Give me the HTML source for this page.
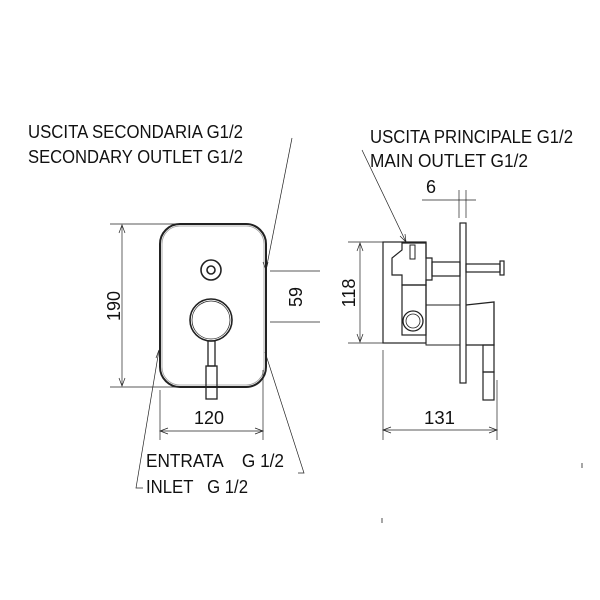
<!DOCTYPE html>
<html><head><style>
body{margin:0;background:#fff}
svg{display:block}
text{font-family:"Liberation Sans",sans-serif;fill:#111}
</style></head><body>
<svg width="600" height="600" viewBox="0 0 600 600" xmlns="http://www.w3.org/2000/svg">
<g fill="none" stroke="#222" stroke-width="1">
<rect x="160" y="224" width="106" height="163" rx="20" stroke-width="2"/>
<rect x="162" y="226" width="102" height="159" rx="18" stroke="#999" stroke-width="0.8"/>
<circle cx="211" cy="270" r="10" stroke-width="1.6"/>
<circle cx="211" cy="270" r="4" stroke-width="1.6"/>
<circle cx="211" cy="320" r="21" stroke-width="1.6"/>
<circle cx="211" cy="320" r="19" stroke-width="0.7"/>
<rect x="208" y="341" width="7" height="25" stroke-width="1.3"/>
<rect x="206" y="366" width="11" height="33" stroke-width="1.3"/>
<line x1="110" y1="224" x2="180" y2="224" stroke-width="0.7"/>
<line x1="110" y1="387" x2="180" y2="387" stroke-width="0.7"/>
<line x1="122" y1="225" x2="122" y2="386" stroke-width="0.7"/>
<path d="M119 233 L122 225 L125 233 M119 378 L122 386 L125 378" stroke-width="0.7"/>
<line x1="270" y1="271" x2="320" y2="271" stroke-width="0.7"/>
<line x1="270" y1="322" x2="320" y2="322" stroke-width="0.7"/>
<line x1="160" y1="390" x2="160" y2="440" stroke-width="0.7"/>
<line x1="263" y1="370" x2="263" y2="440" stroke-width="0.7"/>
<line x1="160" y1="431" x2="263" y2="431" stroke-width="0.7"/>
<path d="M168 428 L160 431 L168 434 M255 428 L263 431 L255 434" stroke-width="0.7"/>
<line x1="292" y1="138" x2="266" y2="270" stroke-width="0.7"/>
<path d="M263 262 L266 270 L268 262" stroke-width="0.7"/>
<path d="M143 488 L136 488 L159 350" stroke-width="0.7"/>
<path d="M156 358 L159 350 L160 358" stroke-width="0.7"/>
<path d="M298 473 L304 473 L265 352" stroke-width="0.7"/>
<line x1="362" y1="150" x2="406" y2="242" stroke-width="0.7"/>
<path d="M400 236 L406 242 L405 234" stroke-width="0.7"/>
<rect x="383" y="242" width="43" height="101" stroke-width="1.2"/>
<line x1="348" y1="242" x2="383" y2="242" stroke-width="0.7"/>
<line x1="348" y1="343" x2="383" y2="343" stroke-width="0.7"/>
<line x1="360" y1="243" x2="360" y2="342" stroke-width="0.7"/>
<path d="M357 251 L360 243 L363 251 M357 334 L360 342 L363 334" stroke-width="0.7"/>
<rect x="460" y="223" width="6" height="160" stroke-width="1.2"/>
<path d="M402 243 L426 243 L426 258 L432 258 L432 280 L426 280 L426 285 L402 285 L402 275 L392 275 L392 258 L402 250 Z" stroke-width="1.2"/>
<rect x="410" y="245" width="5" height="14" stroke-width="1"/>
<rect x="402" y="285" width="24" height="50" stroke-width="1.2"/>
<circle cx="413" cy="321" r="10" stroke-width="1.3"/>
<circle cx="413" cy="321" r="7" stroke-width="0.8"/>
<rect x="432" y="262" width="28" height="14" stroke-width="1.2"/>
<rect x="466" y="264" width="34" height="8" stroke-width="1.2"/>
<rect x="500" y="261" width="4" height="14" stroke-width="1.2"/>
<rect x="426" y="305" width="34" height="40" stroke-width="1"/>
<path d="M466 305 L494 302 L494 345 L466 345" stroke-width="1.3"/>
<rect x="483" y="345" width="11" height="27" stroke-width="1.2"/>
<rect x="483" y="372" width="11" height="28" stroke-width="1.2"/>
<line x1="459" y1="190" x2="459" y2="218" stroke-width="0.7"/>
<line x1="466" y1="190" x2="466" y2="218" stroke-width="0.7"/>
<line x1="422" y1="200" x2="476" y2="200" stroke-width="0.7"/>
<line x1="383" y1="350" x2="383" y2="440" stroke-width="0.7"/>
<line x1="497" y1="380" x2="497" y2="440" stroke-width="0.7"/>
<line x1="383" y1="430" x2="497" y2="430" stroke-width="0.7"/>
<path d="M391 427 L383 430 L391 433 M489 427 L497 430 L489 433" stroke-width="0.7"/>
<line x1="582" y1="463" x2="582" y2="468" stroke-width="0.8"/>
<line x1="382" y1="518" x2="382" y2="523" stroke-width="0.8"/>
</g>
<g font-size="18">
<text x="28" y="138" textLength="215" lengthAdjust="spacingAndGlyphs">USCITA SECONDARIA G1/2</text>
<text x="28" y="163" textLength="215" lengthAdjust="spacingAndGlyphs">SECONDARY OUTLET G1/2</text>
<text x="370" y="143" textLength="203" lengthAdjust="spacingAndGlyphs">USCITA PRINCIPALE G1/2</text>
<text x="370" y="167" textLength="158" lengthAdjust="spacingAndGlyphs">MAIN OUTLET G1/2</text>
<text x="146" y="467" textLength="138" lengthAdjust="spacingAndGlyphs">ENTRATA &#160;&#160;&#160;G 1/2</text>
<text x="146" y="493" textLength="102" lengthAdjust="spacingAndGlyphs">INLET &#160;&#160;G 1/2</text>
<text x="194" y="424" textLength="30" lengthAdjust="spacingAndGlyphs">120</text>
<text x="424" y="424" textLength="31" lengthAdjust="spacingAndGlyphs">131</text>
<text x="426" y="193">6</text>
<text transform="translate(120,306) rotate(-90)" text-anchor="middle">190</text>
<text transform="translate(302,297) rotate(-90)" text-anchor="middle">59</text>
<text transform="translate(355,293) rotate(-90)" text-anchor="middle">118</text>
</g>
</svg>
</body></html>
